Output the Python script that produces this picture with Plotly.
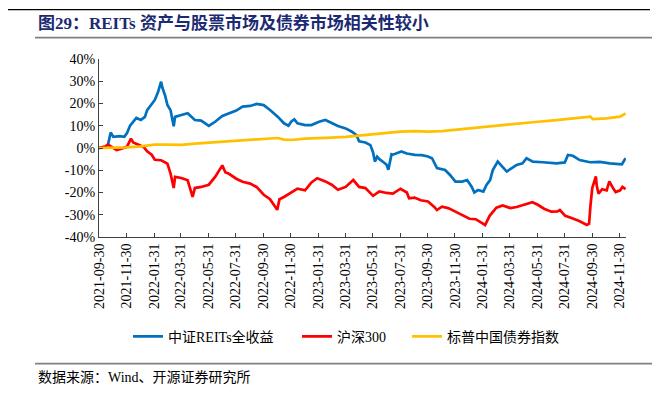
import plotly.graph_objects as go

# ---------------- data ----------------
reits_dates = [
    "2021-09-30", "2021-10-15", "2021-10-20", "2021-10-26", "2021-11-01", "2021-11-15", "2021-11-25",
    "2021-12-01", "2021-12-08", "2021-12-15", "2021-12-22", "2022-01-01", "2022-01-10", "2022-01-15",
    "2022-01-25", "2022-02-01", "2022-02-08", "2022-02-15", "2022-02-18", "2022-02-24", "2022-03-01",
    "2022-03-08", "2022-03-15", "2022-03-18", "2022-04-01", "2022-04-15", "2022-05-01", "2022-05-15",
    "2022-06-01", "2022-06-15", "2022-07-01", "2022-07-15", "2022-08-01", "2022-08-15", "2022-09-01",
    "2022-09-15", "2022-10-01", "2022-10-15", "2022-11-01", "2022-11-15", "2022-11-25", "2022-12-01",
    "2022-12-08", "2022-12-15", "2023-01-01", "2023-01-15", "2023-02-01", "2023-02-15", "2023-03-01",
    "2023-03-15", "2023-04-01", "2023-04-15", "2023-04-25", "2023-05-01", "2023-05-15", "2023-05-26",
    "2023-06-01", "2023-06-05", "2023-06-10", "2023-06-15", "2023-06-25", "2023-07-01", "2023-07-05",
    "2023-07-12", "2023-07-15", "2023-08-03", "2023-08-15", "2023-09-02", "2023-09-17", "2023-10-01",
    "2023-10-10", "2023-10-21", "2023-11-08", "2023-11-19", "2023-12-01", "2023-12-16", "2023-12-27",
    "2024-01-06", "2024-01-12", "2024-01-20", "2024-02-01", "2024-02-08", "2024-02-16", "2024-02-22",
    "2024-03-04", "2024-03-15", "2024-03-24", "2024-04-15", "2024-04-28", "2024-05-07", "2024-05-21",
    "2024-06-12", "2024-07-13", "2024-07-31", "2024-08-07", "2024-08-18", "2024-09-02", "2024-09-25",
    "2024-10-17", "2024-11-08", "2024-12-05", "2024-12-13",
]
reits_values = [
    0.0, 0.3, 1.5, 7.0, 5.0, 5.3, 5.0,
    6.6, 10.0, 11.8, 13.5, 12.6, 14.0, 17.0,
    19.5, 21.6, 25.0, 29.8, 27.0, 23.5, 19.3,
    17.0, 9.8, 14.0, 14.8, 15.6, 12.6, 12.3,
    9.9, 11.8, 14.4, 15.6, 16.8, 18.6, 18.9,
    19.8, 19.3, 17.1, 14.1, 11.1, 10.0, 11.8,
    12.9, 11.1, 10.3, 10.3, 11.8, 12.6, 11.1,
    9.9, 8.8, 7.3, 5.8, 3.0, 2.5, 1.3,
    -2.0, -6.1, -3.9, -5.0, -6.5, -7.5, -9.8,
    -2.8, -3.0, -1.6, -2.5, -3.1, -3.2, -3.8,
    -4.6, -9.0, -9.9, -12.1, -15.1, -15.1, -14.4,
    -17.4, -20.0, -18.9, -19.6, -16.6, -14.4, -9.9,
    -6.1, -8.4, -10.6, -7.6, -6.9, -4.6, -6.1,
    -6.4, -6.9, -6.5, -3.1, -3.5, -5.4, -6.4,
    -6.2, -6.9, -7.3, -4.6,
]

csi300_dates = [
    "2021-09-30", "2021-10-15", "2021-10-20", "2021-11-01", "2021-11-08", "2021-11-15", "2021-12-01",
    "2021-12-10", "2021-12-15", "2022-01-01", "2022-01-08", "2022-01-15", "2022-01-25", "2022-02-01",
    "2022-02-15", "2022-03-01", "2022-03-08", "2022-03-15", "2022-03-18", "2022-04-01", "2022-04-15",
    "2022-04-26", "2022-05-01", "2022-05-15", "2022-06-01", "2022-06-15", "2022-07-01", "2022-07-08",
    "2022-07-15", "2022-08-01", "2022-08-15", "2022-09-01", "2022-09-15", "2022-10-01", "2022-10-15",
    "2022-10-31", "2022-11-05", "2022-11-15", "2022-12-01", "2022-12-15", "2023-01-01", "2023-01-15",
    "2023-01-28", "2023-02-15", "2023-03-01", "2023-03-15", "2023-04-01", "2023-04-18", "2023-05-01",
    "2023-05-15", "2023-06-01", "2023-06-15", "2023-07-01", "2023-07-15", "2023-08-01", "2023-08-15",
    "2023-08-20", "2023-09-01", "2023-09-15", "2023-10-01", "2023-10-15", "2023-10-21", "2023-11-01",
    "2023-11-15", "2023-12-01", "2023-12-15", "2024-01-01", "2024-01-15", "2024-02-05", "2024-02-15",
    "2024-03-01", "2024-03-15", "2024-04-01", "2024-04-15", "2024-05-01", "2024-05-20", "2024-06-01",
    "2024-06-15", "2024-07-01", "2024-07-15", "2024-07-20", "2024-08-01", "2024-08-15", "2024-09-01",
    "2024-09-18", "2024-09-23", "2024-09-26", "2024-09-30", "2024-10-08", "2024-10-10", "2024-10-14",
    "2024-10-22", "2024-11-01", "2024-11-07", "2024-11-15", "2024-11-21", "2024-12-01", "2024-12-06",
    "2024-12-13",
]
csi300_values = [
    0.0, 0.8, 1.5, 0.0, -0.9, -0.5, 0.5,
    4.2, 2.5, 1.0, 0.3, -1.5, -3.0, -5.3,
    -5.5, -7.0, -11.5, -18.0, -13.0, -13.5, -14.5,
    -22.0, -18.0, -17.5, -16.5, -13.0, -7.8, -11.0,
    -11.5, -13.8, -15.2, -16.0, -17.5, -21.0, -23.0,
    -27.8, -23.0, -22.0, -20.0, -18.3, -19.0, -15.5,
    -13.6, -15.0, -16.5, -18.8, -17.5, -14.4, -17.5,
    -18.0, -21.5, -19.5, -20.2, -20.5, -18.3, -20.0,
    -22.6, -22.3, -23.5, -24.0, -26.5, -27.9, -26.4,
    -27.0, -28.6, -30.1, -31.8, -32.0, -34.6, -30.5,
    -26.8, -25.8, -27.0, -26.5, -25.6, -24.4, -25.5,
    -27.3, -28.6, -28.5, -27.9, -30.5, -31.5, -32.8,
    -34.6, -34.0, -26.0, -18.0, -12.8, -17.0, -20.5,
    -18.5, -19.0, -15.0, -18.0, -19.8, -19.0, -17.5,
    -18.5,
]

bond_dates = [
    "2021-09-30", "2021-11-01", "2021-12-01", "2022-01-01", "2022-02-01", "2022-03-01", "2022-04-01",
    "2022-05-01", "2022-06-01", "2022-07-01", "2022-08-01", "2022-09-01", "2022-10-01", "2022-11-01",
    "2022-11-15", "2022-12-01", "2023-01-01", "2023-02-01", "2023-03-01", "2023-04-01", "2023-05-01",
    "2023-06-01", "2023-07-01", "2023-08-01", "2023-09-01", "2023-10-01", "2023-11-01", "2023-12-01",
    "2024-01-01", "2024-02-01", "2024-03-01", "2024-04-01", "2024-05-01", "2024-06-01", "2024-07-01",
    "2024-08-01", "2024-09-01", "2024-09-26", "2024-10-01", "2024-11-01", "2024-12-01", "2024-12-13",
]
bond_values = [
    0.0, 0.0, 0.3, 0.7, 1.5, 1.5, 1.4,
    2.0, 2.4, 2.8, 3.3, 3.8, 4.1, 4.5,
    3.8, 3.6, 4.2, 4.3, 4.7, 5.0, 5.6,
    6.3, 6.8, 7.4, 7.6, 7.4, 7.6, 8.2,
    8.9, 9.6, 10.3, 10.8, 11.3, 11.8, 12.3,
    12.9, 13.5, 14.1, 13.0, 13.3, 14.1, 15.5,
]

series_names = ["中证REITs全收益", "沪深300", "标普中国债券指数"]

x_ticks = [
    "2021-09-30", "2021-11-30", "2022-01-31", "2022-03-31", "2022-05-31", "2022-07-31",
    "2022-09-30", "2022-11-30", "2023-01-31", "2023-03-31", "2023-05-31", "2023-07-31",
    "2023-09-30", "2023-11-30", "2024-01-31", "2024-03-31", "2024-05-31", "2024-07-31",
    "2024-09-30", "2024-11-30",
]
y_ticks = [-40, -30, -20, -10, 0, 10, 20, 30, 40]
y_tick_labels = ["-40%", "-30%", "-20%", "-10%", "0%", "10%", "20%", "30%", "40%"]

title_text = "图29：REITs 资产与股票市场及债券市场相关性较小"
source_text = "数据来源：Wind、开源证券研究所"

# ---------------- figure ----------------
FONT = "Liberation Serif, 'Times New Roman', 'Noto Sans CJK SC', serif"
AX = "#404040"

fig = go.Figure()
fig.add_trace(go.Scatter(x=reits_dates, y=reits_values, name=series_names[0], mode="lines",
                         legend="legend", line=dict(color="#0070C0", width=2.7)))
fig.add_trace(go.Scatter(x=csi300_dates, y=csi300_values, name=series_names[1], mode="lines",
                         legend="legend2", line=dict(color="#FF0000", width=2.7)))
fig.add_trace(go.Scatter(x=bond_dates, y=bond_values, name=series_names[2], mode="lines",
                         legend="legend3", line=dict(color="#FFC000", width=2.7)))

# The page body has an 8px margin, so the figure is drawn at (8, 8) in the window.
OFF = 8
PL, PR, PT, PB = 99.0, 626.0, 58.5, 237.0   # target plot area in window pixels
W, H = 663 - OFF, 395 - OFF

def px_x(p):
    return (p - PL) / (PR - PL)

def px_y(p):
    return (PB - p) / (PB - PT)

def legend_at(px_left):
    return dict(orientation="h", x=px_x(px_left), xanchor="left", y=px_y(337), yanchor="middle",
                font=dict(family=FONT, size=14, color="black"), itemwidth=30,
                bgcolor="rgba(0,0,0,0)", borderwidth=0)

fig.update_layout(
    width=W, height=H,
    margin=dict(l=PL - OFF, r=W - (PR - OFF), t=PT - OFF, b=H - (PB - OFF), autoexpand=False),
    paper_bgcolor="white", plot_bgcolor="white",
    font=dict(family=FONT, size=14, color="black"),
    showlegend=True,
    legend=legend_at(128),
    legend2=legend_at(297),
    legend3=legend_at(407),
    xaxis=dict(type="date", range=["2021-09-30", "2024-12-14"],
               tickvals=x_ticks, ticktext=x_ticks, tickangle=-90,
               ticks="inside", ticklen=4, tickcolor=AX, showline=True, linecolor=AX, linewidth=1,
               showgrid=False, zeroline=False, automargin=False,
               tickfont=dict(family=FONT, size=14, color="black")),
    yaxis=dict(range=[-40, 40], tickvals=y_ticks, ticktext=y_tick_labels,
               ticks="inside", ticklen=4, tickcolor=AX, showline=True, linecolor=AX, linewidth=1,
               showgrid=False, zeroline=False, automargin=False,
               tickfont=dict(family=FONT, size=14, color="black")),
    annotations=[
        dict(text="<b>" + title_text + "</b>", xref="paper", yref="paper",
             x=px_x(36), y=px_y(22), xanchor="left", yanchor="middle", showarrow=False,
             font=dict(family=FONT, size=17, color="#1B2A72")),
        dict(text=source_text, xref="paper", yref="paper",
             x=px_x(36), y=px_y(378), xanchor="left", yanchor="middle", showarrow=False,
             font=dict(family=FONT, size=14, color="black")),
    ],
    shapes=[
        dict(type="line", xref="paper", yref="paper", x0=px_x(8), x1=px_x(650),
             y0=px_y(9), y1=px_y(9), line=dict(color="black", width=1.2)),
        dict(type="line", xref="paper", yref="paper", x0=px_x(35), x1=px_x(652),
             y0=px_y(37), y1=px_y(37), line=dict(color="#808080", width=1.8)),
        dict(type="line", xref="paper", yref="paper", x0=px_x(35), x1=px_x(652),
             y0=px_y(364), y1=px_y(364), line=dict(color="#808080", width=1.8)),
    ],
)

fig.write_html("out.html")
